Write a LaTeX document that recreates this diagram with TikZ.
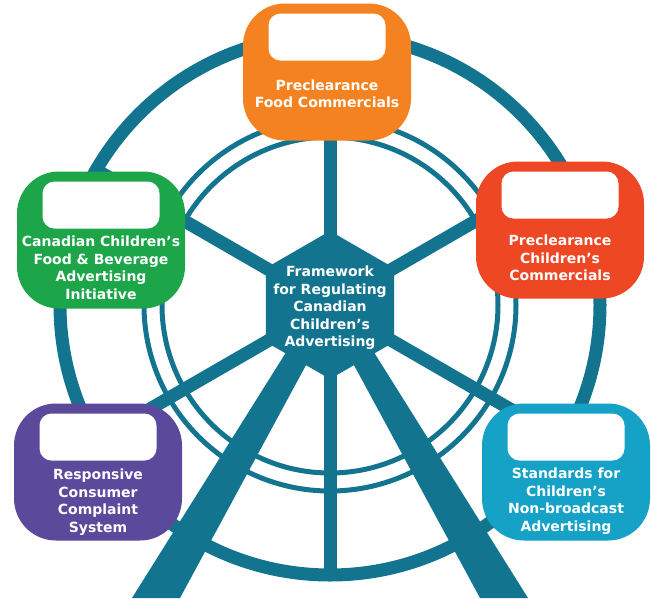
\documentclass[tikz,border=0pt]{standalone}
\usepackage{fontspec}
\setmainfont{DejaVu Sans}
\usetikzlibrary{shapes.geometric,positioning}

\definecolor{wheelteal}{RGB}{19,116,144}
\definecolor{boxorange}{RGB}{245,130,32}
\definecolor{boxgreen}{RGB}{29,165,74}
\definecolor{boxred}{RGB}{238,71,36}
\definecolor{boxpurple}{RGB}{91,74,156}
\definecolor{boxcyan}{RGB}{22,161,199}

\begin{document}
\begin{tikzpicture}[x=1pt,y=-1pt,
    rim/.style={draw=wheelteal},
    hub/.style={regular polygon,regular polygon sides=6,regular polygon rotate=30,
        minimum size=148pt,inner sep=0pt,fill=wheelteal},
    box/.style={rectangle,rounded corners=42pt,minimum width=168pt,
        minimum height=137pt,inner sep=0pt},
    window/.style={rectangle,rounded corners=12pt,fill=white,minimum width=117pt,
        minimum height=47pt,inner sep=0pt},
    boxtext/.style={text=white,align=center,inner sep=0pt,
        font=\bfseries\fontsize{14}{17.5}\selectfont}]

    \useasboundingbox (0,0) rectangle (651,598);

    % outer rim and the two thin inner rims
    \draw[rim,line width=13pt] (330,305) circle (270pt);
    \foreach \r in {168,186} {
        \draw[rim,line width=5pt] (330,305) circle (\r pt);
    }

    % spokes every 60 degrees
    \foreach \ang in {30,90,...,330} {
        \draw[rim,line width=13pt] (330,305) -- +(\ang:270pt);
    }

    % the two legs
    \fill[wheelteal] (300,330) -- (325,330) -- (180,598) -- (132,598) -- cycle;
    \fill[wheelteal] (360,330) -- (335,330) -- (480,598) -- (528,598) -- cycle;

    % hub
    \node[hub] (hub) at (330,305) {};
    \node[boxtext] (hubtext) at (330,308)
        {Framework\\for Regulating\\Canadian\\Children’s\\Advertising};

    % the five cars
    \foreach \nm/\col/\cx/\cy/\off/\txt in {
        food/boxorange/327/72/22/{Preclearance\\Food Commercials},
        initiative/boxgreen/101/240/28/{Canadian Children’s\\Food \& Beverage\\Advertising\\Initiative},
        childcom/boxred/560/230/28/{Preclearance\\Children’s\\Commercials},
        complaint/boxpurple/98/472/30/{Responsive\\Consumer\\Complaint\\System},
        nonbroad/boxcyan/566/472/29/{Standards for\\Children’s\\Non-broadcast\\Advertising}} {
        \node[box,fill=\col] (\nm) at (\cx,\cy) {};
        \node[window,below=10pt of \nm.north] (\nm-win) {};
        \node[boxtext] (\nm-text) at ([yshift=-\off pt]\nm.center) {\txt};
    }

\end{tikzpicture}
\end{document}
